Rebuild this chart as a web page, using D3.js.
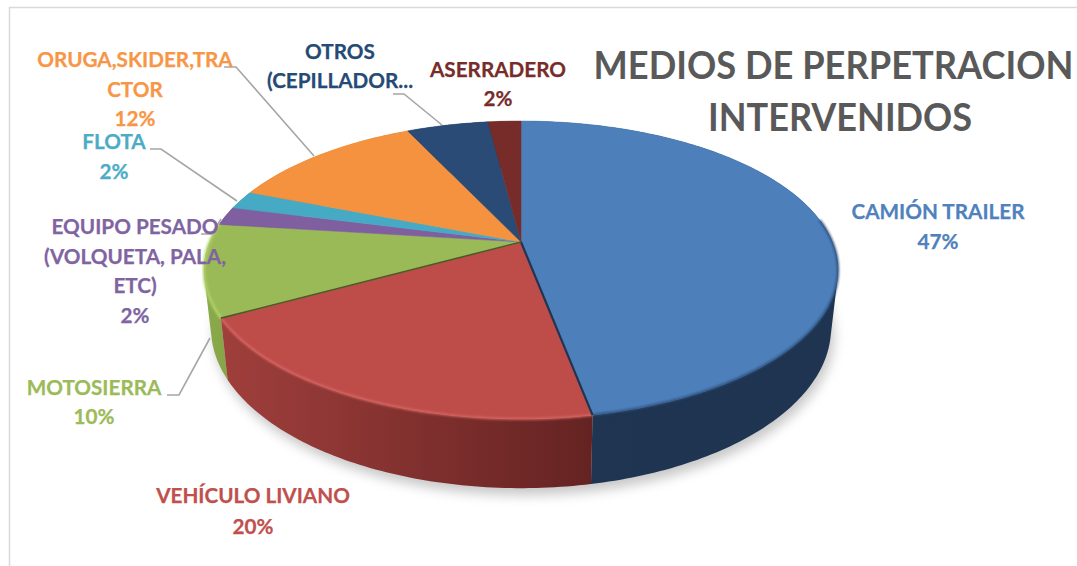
<!DOCTYPE html>
<html><head><meta charset="utf-8">
<script src="https://cdn.jsdelivr.net/npm/d3@7"></script>
<style>html,body{margin:0;background:#fff;overflow:hidden}text{font-family:Lato,Carlito,sans-serif;font-weight:700;text-anchor:middle}</style>
</head><body><svg id="c" width="1077" height="566"></svg>
<script>
const categories = ["CAMIÓN TRAILER","VEHÍCULO LIVIANO","MOTOSIERRA","EQUIPO PESADO (VOLQUETA, PALA, ETC)","FLOTA","ORUGA,SKIDER,TRACTOR","OTROS (CEPILLADOR...","ASERRADERO"];
const values = [47,20,10,2,2,12,5,2];
const labelLines = [["CAMIÓN TRAILER"],["VEHÍCULO LIVIANO"],["MOTOSIERRA"],["EQUIPO PESADO","(VOLQUETA, PALA,","ETC)"],["FLOTA"],["ORUGA,SKIDER,TRA","CTOR"],["OTROS","(CEPILLADOR..."],["ASERRADERO"]];
const percentLabels = ["47%","20%","10%","2%","2%","12%",null,"2%"];
const titleLines = ["MEDIOS DE PERPETRACION","INTERVENIDOS"];
const titleWidths = [480,264];
const titleCenters = [833.5,840];

const faceColors = ["#4d7fba","#be4d4a","#9aba58","#7f5fa0","#46aac4","#f5923f","#2a4b75","#772c2a"];
const textColors = ["#4f81bd","#c0504d","#9bbb59","#8064a2","#4bacc6","#f79646","#254a75","#772c2a"];
const wallStops = [["#1f3552","#1f3450"],["#a03f3c","#642322"],["#8aaa4a","#86a548"],["#5e4678","#5e4678"],["#35808f","#35808f"],["#b86e30","#b86e30"],["#1f3552","#1f3552"],["#5a2120","#5a2120"]];
const labelAnchors = [[938,219],[253,503],[94,395],[135,234],[114,149],[135,67],[340,59],[498,77]];
const lineSteps = [30,31,29,29.5,30,29.5,29,29];
const leaderPaths = [null,null,[[167,395],[179,395],[210,338]],[[201,234],[212,234],[221,219]],[[150,149],[161,149],[237,201]],[[224,67],[236,67],[314,156]],[[393,94],[404,94],[442,125]],null];

const svg = d3.select("#c");
const defs = svg.append("defs");
defs.append("filter").attr("id","sh").attr("x","-10%").attr("y","-10%").attr("width","120%").attr("height","120%")
  .append("feGaussianBlur").attr("stdDeviation",6);
defs.append("filter").attr("id","soft").append("feGaussianBlur").attr("stdDeviation",1.2);

svg.append("path").attr("d","M9.5 566V7.5H1077").attr("fill","none").attr("stroke","#d9d9d9").attr("stroke-width",1.5);

// perspective disc
const cx = 521, persp = 0.188;
const project = (r, s, apexY) => a => {
  const x = Math.sin(a), y = Math.cos(a), w = 1 + persp * y;
  return [cx + r * x / w, apexY - s * y / w];
};
const topRing = project(311.4, 143.7, 242);
const baseRing = project(304.5, 154.4, 298);
const pie = d3.pie().sort(null).value(d => d)(values);
const line = d3.line();
const samples = (a0, a1) => d3.range(0, 1.0001, 1 / Math.max(2, Math.ceil((a1 - a0) * 60))).map(t => a0 + (a1 - a0) * t);

// ground shadow
svg.append("path").attr("d", line(samples(0, 2 * Math.PI).map(a => { const p = baseRing(a); return [p[0] + 3, p[1] + 7]; })) + "Z")
  .attr("fill","#9a9a9a").attr("opacity",0.55).attr("filter","url(#sh)");

// walls: one path per slice so neighbouring quads leave no seams
const wallOrder = [0,7,6,5,4,3,2,1];
wallOrder.forEach(i => {
  const d = pie[i];
  const pts = samples(d.startAngle, d.endAngle);
  const xs = pts.map(a => topRing(a)[0]).concat(pts.map(a => baseRing(a)[0]));
  const g = defs.append("linearGradient").attr("id","w"+i).attr("gradientUnits","userSpaceOnUse")
    .attr("x1",d3.min(xs)).attr("x2",d3.max(xs)).attr("y1",0).attr("y2",0);
  g.append("stop").attr("offset",0).attr("stop-color",wallStops[i][0]);
  g.append("stop").attr("offset",1).attr("stop-color",wallStops[i][1]);
  const body = d3.pairs(pts).map(([a,b]) => {
    const q = [topRing(a),topRing(b),baseRing(b),baseRing(a)];
    const area = d3.polygonArea(q);
    return line(area < 0 ? q.reverse() : q) + "Z";
  }).join("");
  svg.append("path").attr("d", body).attr("fill","url(#w"+i+")").attr("fill-rule","nonzero");
});

// top faces
pie.forEach((d,i) => {
  const pts = samples(d.startAngle, d.endAngle).map(topRing);
  svg.append("path").attr("d", line([[cx,242],...pts]) + "Z").attr("fill",faceColors[i]).attr("stroke",faceColors[i]).attr("stroke-width",0.5);
});

// rim highlights and seams
[[0,"#2a4a72",2.2,0.9],[1,"#dd6a66",2.2,0.85],[2,"#b5d56e",3,0.8]].forEach(([i,c,w,o]) => {
  const a0 = i === 0 ? Math.PI * 0.45 : pie[i].startAngle, a1 = pie[i].endAngle;
  svg.append("path").attr("d", line(samples(a0,a1).map(topRing))).attr("fill","none")
    .attr("stroke",c).attr("stroke-width",w).attr("opacity",o).attr("filter","url(#soft)");
});
[[1,"#1f3552",2.2],[2,"#4d5a28",1.6]].forEach(([i,c,w]) => {
  svg.append("path").attr("d", line([[cx,242],topRing(pie[i].startAngle)])).attr("stroke",c).attr("stroke-width",w).attr("fill","none");
});

// leader lines
leaderPaths.forEach(p => { if (p) svg.append("path").attr("d", line(p)).attr("fill","none").attr("stroke","#a6a6a6").attr("stroke-width",1.6); });

// labels
labelLines.forEach((lines,i) => {
  const all = percentLabels[i] ? lines.concat(percentLabels[i]) : lines;
  const t = svg.append("text").attr("fill",textColors[i]).style("font-size","20.7px").style("stroke",textColors[i]).style("stroke-width","0.25px");
  all.forEach((s,k) => t.append("tspan").attr("x",labelAnchors[i][0]).attr("y",labelAnchors[i][1] + k * lineSteps[i]).text(s));
});

// title: condensed horizontally to the reference's width
titleLines.forEach((s,k) => {
  const t = svg.append("text").attr("fill","#595959").style("font-size","39px").text(s);
  const sx = titleWidths[k] / t.node().getComputedTextLength();
  t.attr("transform", `translate(${titleCenters[k]},${79 + k * 52}) scale(${sx},1)`);
});
</script></body></html>
